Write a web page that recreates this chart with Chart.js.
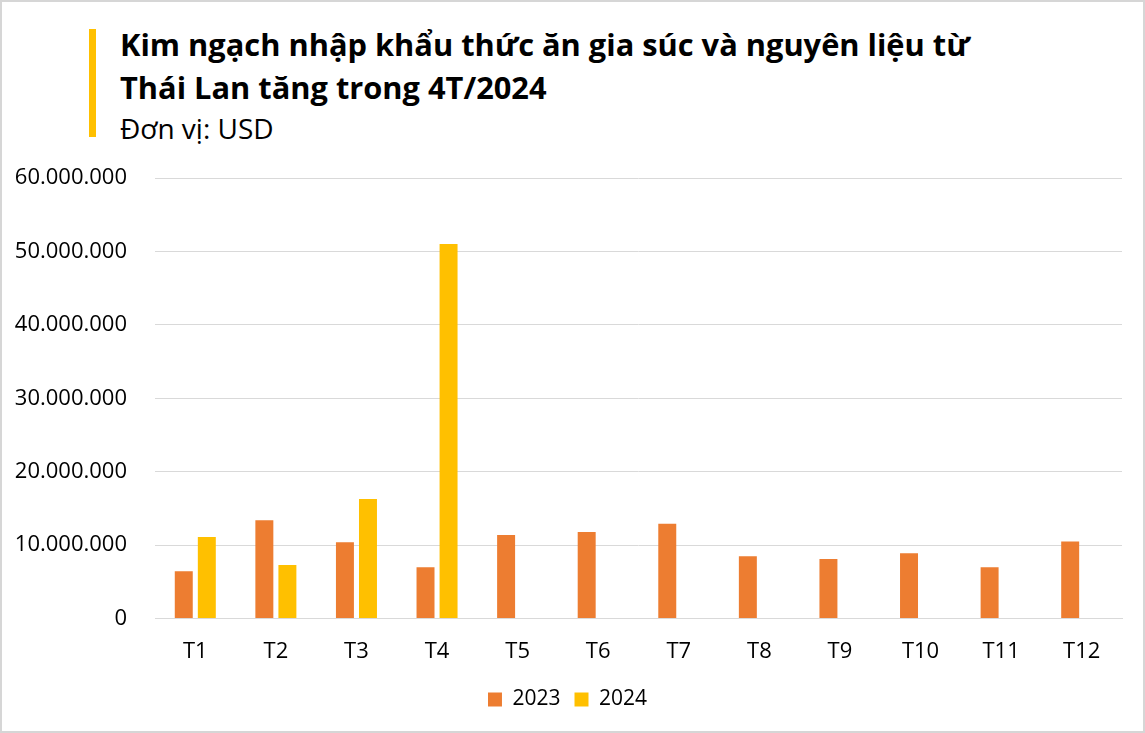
<!DOCTYPE html>
<html>
<head>
<meta charset="utf-8">
<script src="https://cdn.jsdelivr.net/npm/chart.js@4.4.1/dist/chart.umd.min.js"></script>
<style>
  html, body { margin: 0; padding: 0; background: #fff; }
  .frame { position: relative; width: 1145px; height: 733px; box-sizing: border-box;
           border: 2px solid #d6d6d6; overflow: hidden; font-family: 'Open Sans', sans-serif; }
  .bar { position: absolute; left: 87px; top: 27px; width: 7px; height: 108px; background: #ffc000; }
  .title { position: absolute; left: 118px; top: 21px; font-weight: bold; font-size: 30.8px;
           line-height: 43px; color: #000; }
  .unit { position: absolute; left: 118px; top: 107px; font-size: 28px; color: #000; }
  .wrap { position: absolute; left: 0; top: 0; width: 1141px; height: 729px; }
</style>
</head>
<body>
<div class="frame">
  <div class="bar"></div>
  <div class="title">Kim ngạch nhập khẩu thức ăn gia súc và nguyên liệu từ<br>Thái Lan tăng trong 4T/2024</div>
  <div class="unit">Đơn vị: USD</div>
  <div class="wrap"><canvas id="chart"></canvas></div>
</div>
<script>
// months and values
var months = ['T1', 'T2', 'T3', 'T4', 'T5', 'T6', 'T7', 'T8', 'T9', 'T10', 'T11', 'T12']
var values2023 = [6450000, 13400000, 10400000, 7000000, 11400000, 11800000, 12900000, 8500000, 8100000, 8900000, 7000000, 10500000]
var values2024 = [11100000, 7300000, 16300000, 51000000, null, null, null, null, null, null, null, null]
var yTicks = [0, 10000000, 20000000, 30000000, 40000000, 50000000, 60000000]

function fmt(v) {
  return String(v).replace(/\B(?=(\d{3})+(?!\d))/g, '.')
}

var ctx = document.getElementById('chart').getContext('2d')

var chart = new Chart(ctx, {
  type: 'bar',
  data: {
    labels: months,
    datasets: [
      { label: '2023', data: values2023, backgroundColor: '#ed7d31' },
      { label: '2024', data: values2024, backgroundColor: '#ffc000' }
    ]
  },
  options: {
    responsive: true,
    maintainAspectRatio: false,
    animation: false,
    categoryPercentage: 0.572,
    barPercentage: 0.78,
    layout: { padding: { top: 176, right: 21, left: 11, bottom: 11 } },
    plugins: {
      legend: {
        position: 'bottom',
        labels: { boxWidth: 14, boxHeight: 14, padding: 14, color: '#000',
                  font: { family: 'Open Sans', size: 21 } }
      },
      tooltip: { enabled: false }
    },
    scales: {
      x: {
        afterFit: function (axis) { axis.height = axis.height - 2 },
        grid: { display: false },
        border: { color: '#d9d9d9' },
        ticks: { color: '#000', padding: 12, font: { family: 'Open Sans', size: 22 } }
      },
      y: {
        min: 0,
        max: 60000000,
        afterBuildTicks: function (axis) {
          axis.ticks = yTicks.map(function (v) { return { value: v } })
        },
        afterFit: function (axis) { axis.width = 142 },
        grid: { color: '#d9d9d9', drawTicks: false },
        border: { display: false },
        ticks: { color: '#000', padding: 28, font: { family: 'Open Sans', size: 22 },
                 callback: function (v) { return fmt(v) } }
      }
    }
  }
})
</script>
</body>
</html>
